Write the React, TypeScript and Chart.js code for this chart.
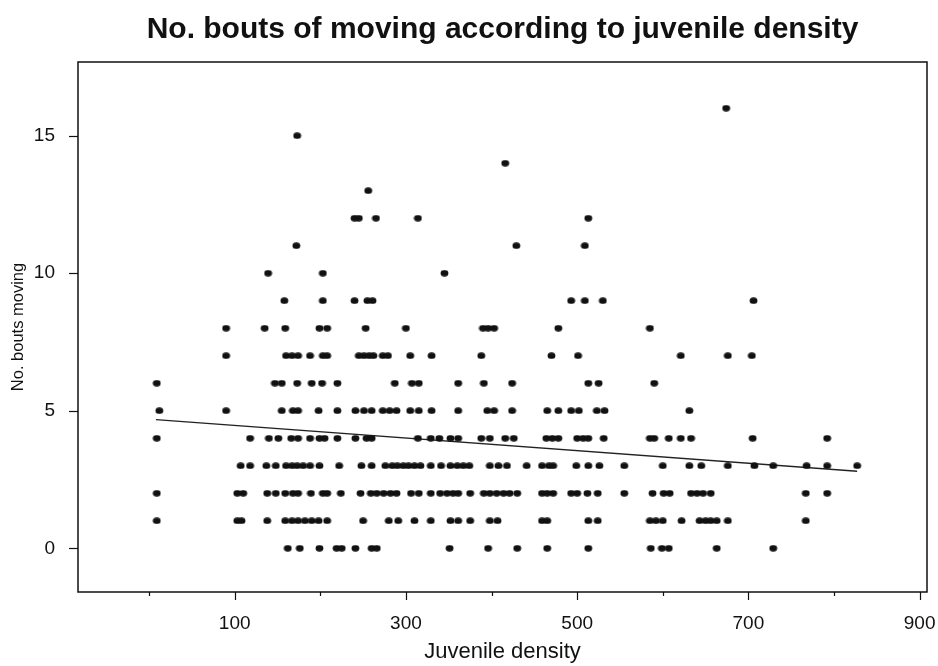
import React, { useEffect, useRef } from 'react';
import { Chart, registerables } from 'chart.js';

Chart.register(...registerables);

// Number of bouts of moving (y) and the juvenile densities (x) observed at each count
const boutCounts = [0, 1, 2, 3, 4, 5, 6, 7, 8, 9, 10, 11, 12, 13, 14, 15, 16];

const density0 = [162, 176, 199, 219, 225, 241, 260, 266, 351, 396, 430, 465, 513, 586, 599, 607, 663, 729];
const density1 = [9, 103, 108, 138, 159, 167, 174, 182, 190, 198, 208, 250, 280, 291, 310, 329, 352, 361, 375, 398, 407, 459, 465, 513, 524, 585, 592, 600, 622, 643, 650, 656, 663, 676, 767];
const density2 = [9, 103, 110, 138, 148, 159, 168, 174, 189, 203, 208, 224, 247, 259, 266, 274, 282, 289, 306, 315, 329, 340, 348, 355, 361, 375, 391, 398, 406, 414, 421, 430, 459, 465, 472, 493, 500, 512, 524, 555, 588, 601, 608, 633, 640, 647, 656, 767, 792];
const density3 = [107, 118, 137, 148, 160, 167, 173, 180, 188, 199, 222, 248, 260, 276, 284, 290, 297, 303, 310, 317, 329, 341, 352, 360, 367, 374, 398, 408, 418, 441, 459, 467, 472, 499, 513, 526, 555, 600, 631, 645, 676, 707, 729, 768, 792, 827];
const density4 = [9, 118, 140, 151, 166, 174, 188, 199, 205, 220, 241, 254, 260, 314, 329, 339, 352, 361, 388, 398, 416, 426, 464, 471, 478, 500, 507, 513, 531, 585, 590, 607, 621, 633, 705, 792];
const density5 = [12, 90, 155, 168, 174, 198, 220, 241, 251, 260, 273, 281, 289, 305, 315, 330, 361, 395, 403, 424, 465, 478, 493, 502, 523, 532, 631];
const density6 = [9, 147, 155, 173, 190, 202, 220, 287, 307, 315, 361, 391, 424, 513, 525, 590];
const density7 = [90, 160, 167, 174, 188, 203, 208, 245, 251, 257, 262, 273, 279, 305, 330, 388, 470, 501, 621, 676, 704];
const density8 = [90, 135, 159, 199, 208, 253, 300, 390, 396, 403, 478, 585];
const density9 = [158, 203, 240, 255, 261, 493, 509, 530, 706];
const density10 = [139, 203, 345];
const density11 = [172, 429, 509];
const density12 = [240, 245, 265, 314, 513];
const density13 = [256];
const density14 = [416];
const density15 = [173];
const density16 = [674];

// Fitted regression line end points
const fitDensity = [8, 827];
const fitBouts = [4.68, 2.8];

// Axis ticks (every x tick gets a mark, only the listed ones get a label)
const xTicks = [0, 100, 200, 300, 400, 500, 600, 700, 800, 900];
const xTickLabels = [100, 300, 500, 700, 900];
const yTicks = [0, 5, 10, 15];

const FONT = "'Liberation Sans', Arial, Helvetica, sans-serif";

function makeDot(): HTMLCanvasElement {
  const c = document.createElement('canvas');
  c.width = 9;
  c.height = 7;
  const g = c.getContext('2d')!;
  g.fillStyle = '#111';
  g.beginPath();
  g.ellipse(4.5, 3.5, 3.9, 3.2, 0, 0, Math.PI * 2);
  g.fill();
  return c;
}

export default function App() {
  const ref = useRef<HTMLCanvasElement>(null);

  useEffect(() => {
    if (!ref.current) return;
    const rows = [
      density0, density1, density2, density3, density4, density5, density6, density7, density8,
      density9, density10, density11, density12, density13, density14, density15, density16,
    ];
    const points = rows.flatMap((xs, i) => xs.map((x) => ({ x, y: boutCounts[i] })));
    const fitLine = fitDensity.map((x, i) => ({ x, y: fitBouts[i] }));
    const dot = makeDot();

    const frameTicks = {
      id: 'frameTicks',
      afterDraw(chart: any) {
        const { ctx, chartArea: a, scales } = chart;
        ctx.save();
        ctx.strokeStyle = '#111';
        ctx.lineWidth = 1.5;
        ctx.strokeRect(a.left, a.top, a.right - a.left, a.bottom - a.top);
        ctx.lineWidth = 1.2;
        const xs = scales.x;
        xs.ticks.forEach((t: any) => {
          const px = Math.round(xs.getPixelForValue(t.value)) + 0.5;
          const major = xTickLabels.includes(t.value);
          ctx.beginPath();
          ctx.moveTo(px, a.bottom);
          ctx.lineTo(px, a.bottom + (major ? 8 : 4));
          ctx.stroke();
        });
        const ys = scales.y;
        ys.ticks.forEach((t: any) => {
          const py = Math.round(ys.getPixelForValue(t.value)) + 0.5;
          ctx.beginPath();
          ctx.moveTo(a.left, py);
          ctx.lineTo(a.left - 9, py);
          ctx.stroke();
        });
        ctx.restore();
      },
    };

    const chart = new Chart(ref.current, {
      type: 'scatter',
      data: {
        datasets: [
          {
            type: 'scatter',
            data: points,
            pointStyle: dot,
            backgroundColor: '#111',
            borderWidth: 0,
            pointRadius: 4,
            pointHoverRadius: 4,
          },
          {
            type: 'line',
            data: fitLine,
            borderColor: '#222',
            borderWidth: 1.3,
            pointRadius: 0,
            fill: false,
          } as any,
        ],
      },
      options: {
        responsive: false,
        animation: false,
        layout: { padding: { left: 0, right: 11, top: 0, bottom: 0 } },
        plugins: {
          legend: { display: false },
          tooltip: { enabled: false },
          title: {
            display: true,
            text: 'No. bouts of moving according to juvenile density',
            fullSize: false,
            color: '#111',
            font: { family: FONT, size: 30, weight: 'bold' },
            padding: { top: 12, bottom: 14 },
          },
        },
        scales: {
          x: {
            type: 'linear',
            min: -83,
            max: 908.6,
            afterBuildTicks: (s: any) => {
              s.ticks = xTicks.map((value) => ({ value }));
            },
            afterFit: (s: any) => {
              s.height = 74;
              s.paddingLeft = 0;
              s.paddingRight = 0;
            },
            grid: { display: false, drawTicks: false },
            border: { display: false },
            ticks: {
              autoSkip: false,
              maxRotation: 0,
              padding: 20,
              color: '#111',
              font: { family: FONT, size: 19 },
              callback: (v: any) => (xTickLabels.includes(Number(v)) ? String(v) : ''),
            },
            title: {
              display: true,
              text: 'Juvenile density',
              color: '#111',
              font: { family: FONT, size: 22 },
              padding: { top: 1, bottom: 1 },
            },
          },
          y: {
            type: 'linear',
            min: -1.59,
            max: 17.68,
            afterBuildTicks: (s: any) => {
              s.ticks = yTicks.map((value) => ({ value }));
            },
            afterFit: (s: any) => {
              s.width = 78;
              s.paddingTop = 0;
              s.paddingBottom = 0;
            },
            grid: { display: false, drawTicks: false },
            border: { display: false },
            ticks: {
              padding: 23,
              color: '#111',
              font: { family: FONT, size: 19 },
            },
            title: {
              display: true,
              text: 'No. bouts moving',
              color: '#111',
              font: { family: FONT, size: 16.5 },
              padding: { top: 9, bottom: 9 },
            },
          },
        },
      },
      plugins: [frameTicks],
    } as any);

    return () => chart.destroy();
  }, []);

  return (
    <div style={{ position: 'absolute', left: 0, top: 0, width: 938, height: 666, background: '#fff' }}>
      <canvas ref={ref} width={938} height={666} style={{ display: 'block' }} />
    </div>
  );
}
